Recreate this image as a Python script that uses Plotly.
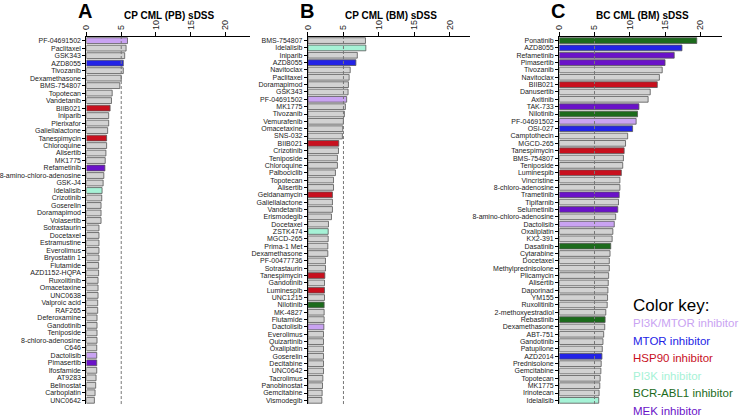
import plotly.graph_objects as go

# ---------------- data ----------------
drugs_a = ["PF-04691502", "Paclitaxel", "GSK343", "AZD8055", "Tivozanib", "Dexamethasone",
           "BMS-754807", "Topotecan", "Vandetanib", "BIIB021", "Iniparib", "Plerixafor",
           "Galiellalactone", "Tanespimycin", "Chloroquine", "Alisertib", "MK1775", "Refametinib",
           "8-amino-chloro-adenosine", "GSK-J4", "Idelalisib", "Crizotinib", "Goserelin",
           "Doramapimod", "Volasertib", "Sotrastaurin", "Docetaxel", "Estramustine", "Everolimus",
           "Bryostatin 1", "Flutamide", "AZD1152-HQPA", "Ruxolitinib", "Omacetaxine", "UNC0638",
           "Valproic acid", "RAF265", "Deferoxamine", "Gandotinib", "Teniposide",
           "8-chloro-adenosine", "C646", "Dactolisib", "Pimasertib", "Ifosfamide", "AT9283",
           "Belinostat", "Carboplatin", "UNC0642"]
sdss_a = [5.9, 5.7, 5.5, 5.3, 5.3, 5.0,
          4.8, 3.7, 3.6, 3.4, 3.2, 3.2,
          3.05, 2.9, 2.9, 2.8, 2.7, 2.65,
          2.5, 2.4, 2.25, 2.2, 2.1,
          2.1, 2.1, 1.8, 1.8, 1.8, 1.8,
          1.8, 1.75, 1.75, 1.67, 1.67, 1.67,
          1.62, 1.62, 1.52, 1.52, 1.52,
          1.52, 1.48, 1.48, 1.48, 1.48, 1.38,
          1.33, 1.24, 1.14]

drugs_b = ["BMS-754807", "Idelalisib", "Iniparib", "AZD8055", "Navitoclax", "Paclitaxel",
           "Doramapimod", "GSK343", "PF-04691502", "MK1775", "Tivozanib", "Vemurafenib",
           "Omacetaxine", "SNS-032", "BIIB021", "Crizotinib", "Teniposide", "Chloroquine",
           "Palbociclib", "Topotecan", "Alisertib", "Geldanamycin", "Galiellalactone",
           "Vandetanib", "Erismodegib", "Docetaxel", "ZSTK474", "MGCD-265", "Prima-1 Met",
           "Dexamethasone", "PF-00477736", "Sotrastaurin", "Tanespimycin", "Gandotinib",
           "Luminespib", "UNC1215", "Nilotinib", "MK-4827", "Flutamide", "Dactolisib",
           "Everolimus", "Quizartinib", "Oxaliplatin", "Goserelin", "Decitabine", "UNC0642",
           "Tacrolimus", "Panobinostat", "Gemcitabine", "Vismodegib"]
sdss_b = [8.1, 8.15, 6.95, 6.75, 5.95, 5.8,
          5.7, 5.65, 5.45, 5.27, 5.13, 4.99,
          4.9, 4.85, 4.34, 4.3, 4.15, 4.15,
          3.87, 3.6, 3.6, 3.45, 3.45,
          3.45, 3.31, 2.89, 2.85, 2.85, 2.8,
          2.8, 2.47, 2.47, 2.38, 2.33,
          2.33, 2.33, 2.28, 2.28, 2.28, 2.24,
          2.19, 2.19, 2.19, 2.19, 2.19, 2.19,
          2.1, 2.05, 2.0, 1.96]

drugs_c = ["Ponatinib", "AZD8055", "Refametinib", "Pimasertib", "Tivozanib", "Navitoclax",
           "BIIB021", "Danusertib", "Axitinib", "TAK-733", "Nilotinib", "PF-04691502",
           "OSI-027", "Camptothecin", "MGCD-265", "Tanespimycin", "BMS-754807", "Teniposide",
           "Luminespib", "Vincristine", "8-chloro-adenosine", "Trametinib", "Tipifarnib",
           "Selumetinib", "8-amino-chloro-adenosine", "Dactolisib", "Oxaliplatin", "KX2-391",
           "Dasatinib", "Cytarabine", "Docetaxel", "Methylprednisolone", "Plicamycin",
           "Alisertib", "Daporinad", "YM155", "Ruxolitinib", "2-methoxyestradiol", "Rebastinib",
           "Dexamethasone", "ABT-751", "Gandotinib", "Patupilone", "AZD2014", "Prednisolone",
           "Gemcitabine", "Topotecan", "MK1775", "Irinotecan", "Idelalisib"]
sdss_c = [19.5, 17.4, 16.3, 15.0, 14.6, 14.2,
          13.9, 12.9, 12.6, 11.3, 11.1, 10.9,
          10.4, 9.7, 9.4, 9.2, 9.1, 9.0,
          8.8, 8.6, 8.6, 8.5, 8.4,
          8.3, 8.0, 7.8, 7.6, 7.5,
          7.3, 7.2, 7.1, 7.1, 7.0,
          6.95, 6.9, 6.85, 6.8, 6.6, 6.5,
          6.45, 6.3, 6.2, 6.1, 6.05, 5.95,
          5.9, 5.8, 5.75, 5.65, 5.6]

panel_letters = ["A", "B", "C"]
panel_titles = ["CP CML (PB) sDSS", "CP CML (BM) sDSS", "BC CML (BM) sDSS"]
x_ticks = [0, 5, 10, 15, 20]
threshold = 5

# drug classes (colour key)
class_names = ["PI3K/MTOR inhibitor", "MTOR inhibitor", "HSP90 inhibitor",
               "PI3K inhibitor", "BCR-ABL1 inhibitor", "MEK inhibitor"]
class_members = {
    "PI3K/MTOR inhibitor": ["PF-04691502", "Dactolisib"],
    "MTOR inhibitor": ["AZD8055", "OSI-027", "AZD2014"],
    "HSP90 inhibitor": ["BIIB021", "Tanespimycin", "Geldanamycin", "Luminespib"],
    "PI3K inhibitor": ["Idelalisib", "ZSTK474"],
    "BCR-ABL1 inhibitor": ["Ponatinib", "Nilotinib", "Dasatinib", "Rebastinib"],
    "MEK inhibitor": ["Refametinib", "Pimasertib", "TAK-733", "Trametinib", "Selumetinib"],
}

# ---------------- styles ----------------
class_colors = {
    "PI3K/MTOR inhibitor": "#c9a3f2",
    "MTOR inhibitor": "#2323e6",
    "HSP90 inhibitor": "#c8101e",
    "PI3K inhibitor": "#a6f2d6",
    "BCR-ABL1 inhibitor": "#1c6b1c",
    "MEK inhibitor": "#6a12c8",
}
gray = "#d2d2d2"
FONT = "Arial, Liberation Sans, sans-serif"
W, H = 745, 420


def color_for(d):
    for cn, members in class_members.items():
        if d in members:
            return class_colors[cn]
    return gray


panels = [(drugs_a, sdss_a), (drugs_b, sdss_b), (drugs_c, sdss_c)]
# pixel geometry of each panel: (x of zero, px per unit, range end)
x_px = [(82, 7.0, 23.5), (305, 7.15, 22.8), (558, 7.1, 23.1)]
y_top, y_bot = 37, 405
ydom = [1 - y_bot / H, 1 - y_top / H]

fig = go.Figure()
layout = dict(
    width=W, height=H, margin=dict(l=0, r=0, t=0, b=0),
    paper_bgcolor="white", plot_bgcolor="white", showlegend=False,
    font=dict(family=FONT, color="#222"),
    bargap=0.2,
)
annotations = []
shapes = []

for i, ((drugs, vals), (x0, ppu, xend)) in enumerate(zip(panels, x_px)):
    sfx = "" if i == 0 else str(i + 1)
    fig.add_trace(go.Bar(
        x=vals, y=drugs, orientation="h",
        marker=dict(color=[color_for(d) for d in drugs],
                    line=dict(color="#555555", width=0.8)),
        xaxis="x" + sfx, yaxis="y" + sfx, width=0.78,
    ))
    dx0 = x0 / W
    dx1 = (x0 + ppu * xend) / W
    layout["xaxis" + sfx] = dict(
        domain=[dx0, dx1], range=[0, xend], side="top", anchor="y" + sfx,
        tickvals=x_ticks, ticktext=[str(t) for t in x_ticks], tickangle=-90,
        ticks="outside", ticklen=4, tickwidth=1, tickcolor="black",
        showline=True, linecolor="black", linewidth=1.2,
        showgrid=False, zeroline=False,
        tickfont=dict(size=9, family=FONT, color="#222"),
    )
    layout["yaxis" + sfx] = dict(
        domain=ydom, anchor="x" + sfx, type="category",
        categoryorder="array", categoryarray=drugs,
        tickmode="array", tickvals=drugs, ticktext=drugs,
        range=[len(drugs) - 0.5, -0.5],
        ticks="outside", ticklen=3, tickwidth=1, tickcolor="black",
        showline=True, linecolor="black", linewidth=1.2,
        showgrid=False, zeroline=False,
        tickfont=dict(size=7, family=FONT, color="#222"),
    )
    shapes.append(dict(
        type="line", xref="x" + sfx, yref="paper",
        x0=threshold, x1=threshold, y0=ydom[0], y1=ydom[1],
        line=dict(color="#777777", width=1, dash="3px,2px"), layer="above",
    ))
    annotations.append(dict(
        text="<b>%s</b>" % panel_letters[i], xref="paper", yref="paper",
        x=(x0 - 1) / W, y=1 - 11 / H, xanchor="center", yanchor="middle",
        showarrow=False, font=dict(size=20, family=FONT, color="black"),
    ))
    annotations.append(dict(
        text="<b>%s</b>" % panel_titles[i], xref="paper", yref="paper",
        x=(x0 + 84) / W, y=1 - 16 / H, xanchor="center", yanchor="middle",
        showarrow=False, font=dict(size=10, family=FONT, color="black"),
    ))

# colour key
annotations.append(dict(
    text="Color key:", xref="paper", yref="paper", x=630 / W, y=1 - 306 / H,
    xanchor="left", yanchor="middle", showarrow=False,
    font=dict(size=17, family=FONT, color="black"),
))
for k, cn in enumerate(class_names):
    annotations.append(dict(
        text=cn, xref="paper", yref="paper", x=630 / W, y=1 - (324 + 17.6 * k) / H,
        xanchor="left", yanchor="middle", showarrow=False,
        font=dict(size=11.5, family=FONT, color=class_colors[cn]),
    ))

layout["annotations"] = annotations
layout["shapes"] = shapes
fig.update_layout(**layout)
fig.write_html("out.html", config={"displayModeBar": False},
               post_script="document.body.style.margin='0';document.body.style.padding='0';")
